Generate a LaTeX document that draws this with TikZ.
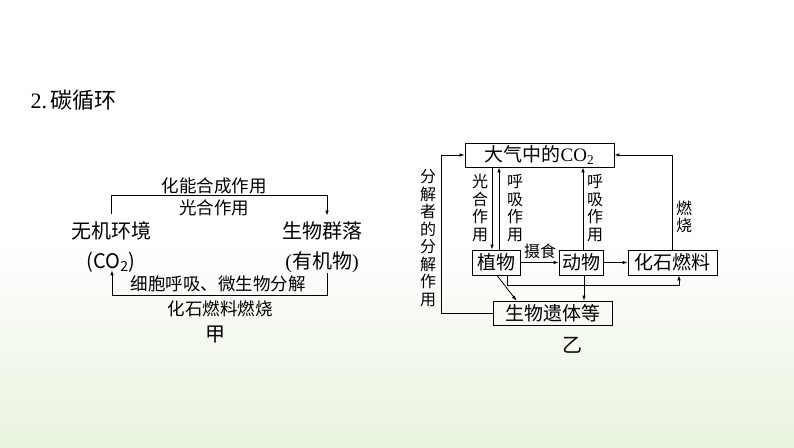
\documentclass[tikz,border=0pt]{standalone}
\usepackage{fontspec}
\setmainfont{Liberation Serif}
\newfontfamily\cjk{Noto Sans CJK SC}
\usetikzlibrary{arrows.meta}
\usetikzlibrary{positioning}
\definecolor{paleleaf}{RGB}{232,243,222}
\tikzset{box/.style = {draw, line width=0.8pt, inner sep=0pt, minimum height=25pt,
                       font=\cjk\fontsize{19}{19}\selectfont},
         arr/.style = {line width=0.8pt, -{Latex[length=5pt,width=3.6pt]}},
         big/.style = {inner sep=0pt, font=\cjk\fontsize{20}{20}\selectfont},
         small/.style = {inner sep=0pt, font=\cjk\fontsize{17.5}{17.5}\selectfont},
         vlbl/.style = {inner sep=0pt, align=center, font=\cjk\fontsize{16}{17.5}\selectfont}}

\begin{document}
\begin{tikzpicture}[x=1pt, y=-1pt]
        \useasboundingbox (0,0) rectangle (794,447);
        \fill[white] (0,0) rectangle (794,241);
        \shade[top color=white, bottom color=paleleaf] (0,240) rectangle (794,447);
        \node[anchor=west, font=\fontsize{22}{22}\selectfont] (title) at (27,100) {2.\,{\cjk 碳循环}};
        % left diagram
        \node[big] (env) at (111,231) {无机环境};
        \node[big] (co2) at (111,262) {(CO\textsubscript{2})};
        \node[big] (comm) at (322,231) {生物群落};
        \node[big] (org) at (322,262) {{\rmfamily(}有机物{\rmfamily)}};
        \draw[arr] ([yshift=8pt]env.north) -- ++(0,-18) -| ([xshift=5pt, yshift=6pt]comm.north);
        \node[small] (chem) at (214,186) {化能合成作用};
        \node[small] (photo) at (214,208) {光合作用};
        \draw[arr] ([xshift=5pt]org.south) -- ++(0,23) -| ([xshift=1pt, yshift=2pt]co2.south);
        \node[small] (resp) at (218,284) {细胞呼吸、微生物分解};
        \node[small] (burn) at (220,309) {化石燃料燃烧};
        \node[big] (jia) at (215,335) {甲};
        % right diagram
        \node[box, minimum width=149pt, minimum height=24pt] (air) at (539.5,155) {大气中的{\rmfamily CO\textsubscript{2}}};
        \node[box, minimum width=48pt] (plant) at (496,262.5) {植物};
        \node[box, minimum width=44pt] (animal) at (581,262.5) {动物};
        \node[box, minimum width=89pt] (fossil) at (672.5,262.5) {化石燃料};
        \node[box, minimum width=119pt, minimum height=24pt] (remain) at (552.5,313) {生物遗体等};
        \draw[arr] ([xshift=-4pt]plant.north |- air.south) -- ([xshift=-4pt]plant.north);
        \draw[arr] ([xshift=3pt]plant.north) -- ([xshift=3pt]plant.north |- air.south);
        \node[vlbl] (photo2) at (480,208) {光\\合\\作\\用};
        \node[vlbl] (resp2) at (515,208) {呼\\吸\\作\\用};
        \draw[arr] (plant) -- (animal);
        \node[vlbl] (eat) at (540,251) {摄食};
        \draw[arr] ([xshift=2pt]animal.north) -- ([xshift=2pt]animal.north |- air.south);
        \node[vlbl] (resp3) at (595,208) {呼\\吸\\作\\用};
        \draw[arr] (animal) -- (fossil);
        \draw[arr] (fossil.north) |- (air.east);
        \node[vlbl] (fire) at (684,217) {燃\\烧};
        \draw[arr] ([xshift=11pt]plant.south) -- ++(0,10) -| ([xshift=6.5pt]fossil.south);
        \draw[arr] ([xshift=1pt]plant.south) -- ([xshift=-36pt]remain.north);
        \draw[arr] ([xshift=3pt]animal.south) -- ([xshift=3pt]animal.south |- remain.north);
        \draw[arr] (remain.west) -- ++(-51,0) |- (air.west);
        \node[vlbl] (decomp) at (428,238) {分\\解\\者\\的\\分\\解\\作\\用};
        \node[big] (yi) at (572,345) {乙};
    \end{tikzpicture}
\end{document}
